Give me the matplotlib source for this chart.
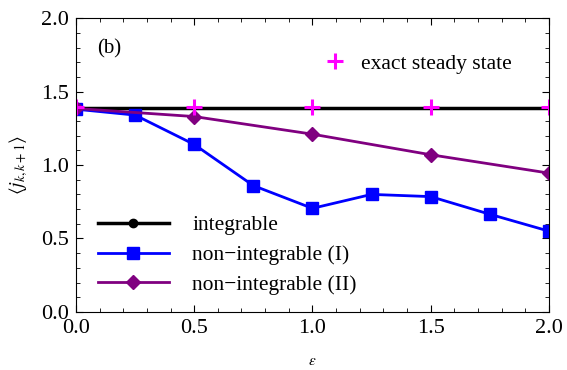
import matplotlib.pyplot as plt
from matplotlib.ticker import MultipleLocator
from matplotlib.lines import Line2D

plt.rcParams['font.family'] = ['Liberation Serif', 'DejaVu Serif']
plt.rcParams['mathtext.fontset'] = 'stix'

# data
eps_int = [0.0, 0.25, 0.5, 0.75, 1.0, 1.25, 1.5, 1.75, 2.0]
j_int = [1.39, 1.39, 1.39, 1.39, 1.39, 1.39, 1.39, 1.39, 1.39]

eps_n1 = [0.0, 0.25, 0.5, 0.75, 1.0, 1.25, 1.5, 1.75, 2.0]
j_n1 = [1.38, 1.34, 1.14, 0.86, 0.705, 0.80, 0.785, 0.665, 0.55]

eps_n2 = [0.0, 0.5, 1.0, 1.5, 2.0]
j_n2 = [1.385, 1.33, 1.21, 1.07, 0.945]

eps_exact = [0.0, 0.5, 1.0, 1.5, 2.0]
j_exact = [1.395, 1.395, 1.395, 1.395, 1.395]

fig = plt.figure(figsize=(5.67, 3.70), dpi=100)
ax = fig.add_axes([0.134, 0.157, 0.834, 0.794])

ax.plot(eps_int, j_int, color='black', lw=2.5)
l2, = ax.plot(eps_n1, j_n1, color='#0000ff', lw=2, marker='s', ms=9, label='non\u2212integrable (I)')
l3, = ax.plot(eps_n2, j_n2, color='#800080', lw=2, marker='D', ms=7.5, label='non\u2212integrable (II)')
l4, = ax.plot(eps_exact, j_exact, ls='none', color='#ff00ff', marker='+', ms=12, mew=2.2,
              label='exact steady state')
l1 = Line2D([], [], color='black', lw=2.5, marker='o', ms=6, label='integrable')

ax.set_xlim(0, 2)
ax.set_ylim(0, 2)
ax.xaxis.set_major_locator(MultipleLocator(0.5))
ax.xaxis.set_minor_locator(MultipleLocator(0.1))
ax.yaxis.set_major_locator(MultipleLocator(0.5))
ax.yaxis.set_minor_locator(MultipleLocator(0.1))
ax.tick_params(which='both', direction='in', top=True, right=True, labelsize=16)
ax.tick_params(which='major', length=5, pad=5)
ax.tick_params(which='minor', length=3)

ax.set_xlabel(r'$\varepsilon$', fontsize=11, labelpad=12)
ax.set_ylabel(r'$\langle j_{k,k+1}\rangle$', fontsize=14, labelpad=8)

ax.text(0.09, 1.76, '(b)', fontsize=15)

leg1 = ax.legend(handles=[l1, l2, l3], loc='lower left', bbox_to_anchor=(0.005, -0.008),
                 frameon=False, fontsize=15.5, handlelength=3.3, handletextpad=1.1,
                 labelspacing=0.45)
ax.add_artist(leg1)
ax.legend(handles=[l4], loc='upper right', bbox_to_anchor=(0.962, 0.945),
          frameon=False, fontsize=15.5, handlelength=1.0, handletextpad=0.7)

fig.savefig('out.png', dpi=100)
